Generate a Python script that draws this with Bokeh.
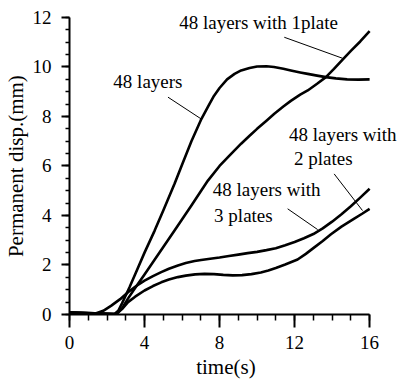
from bokeh.plotting import figure
from bokeh.models import Range1d, SingleIntervalTicker, Label, ColumnDataSource, Title
from bokeh.embed import file_html
from bokeh.resources import INLINE

# ---- data ----
t_48 = [0, 1.0, 2.0, 2.4, 2.6, 2.8, 3.2, 3.6, 4.0, 4.54, 5.0, 5.6, 6.0, 6.5, 7.0, 7.4, 7.7,
        8.0, 8.4, 8.8, 9.15, 9.6, 10.0, 10.5, 10.9, 11.4, 11.8, 12.3, 12.7, 13.2, 13.67,
        14.2, 14.8, 15.4, 16.0]
y_48 = [0.08, 0.06, 0.03, 0.02, 0.15, 0.45, 1.1, 1.8, 2.5, 3.39, 4.2, 5.28, 6.05, 7.0, 7.85,
        8.42, 8.83, 9.15, 9.5, 9.72, 9.86, 9.96, 10.02, 10.03, 10.0, 9.93, 9.86, 9.78, 9.72,
        9.65, 9.59, 9.54, 9.5, 9.49, 9.5]

t_1p = [0, 1.0, 2.0, 2.5, 2.8, 3.1, 3.47, 4.0, 4.5, 5.0, 5.6, 6.05, 6.5, 7.0, 7.38, 8.0, 8.5,
        9.15, 9.6, 10.0, 10.5, 10.92, 11.4, 11.8, 12.3, 12.7, 13.2, 13.67, 14.1, 14.56,
        15.0, 15.5, 16.0]
y_1p = [0.08, 0.06, 0.03, 0.02, 0.25, 0.62, 1.04, 1.62, 2.17, 2.73, 3.39, 3.9, 4.4, 4.98,
        5.41, 6.0, 6.4, 6.9, 7.22, 7.5, 7.83, 8.11, 8.4, 8.63, 8.88, 9.05, 9.32, 9.59, 9.92,
        10.3, 10.65, 11.03, 11.45]

t_3p = [0, 1.0, 1.35, 1.8, 2.23, 2.7, 3.12, 3.5, 4.0, 4.45, 4.89, 5.3, 5.78, 6.2, 6.67, 7.02,
        7.5, 8.0, 8.5, 9.0, 9.5, 10.0, 10.5, 11.0, 11.5, 12.0, 12.5, 13.0, 13.5, 14.0, 14.5,
        15.0, 15.5, 16.0]
y_3p = [0.08, 0.05, 0.03, 0.15, 0.36, 0.62, 0.9, 1.12, 1.37, 1.55, 1.71, 1.85, 1.98, 2.08,
        2.16, 2.2, 2.25, 2.3, 2.36, 2.42, 2.48, 2.53, 2.6, 2.68, 2.8, 2.93, 3.08, 3.25, 3.48,
        3.75, 4.05, 4.37, 4.72, 5.08]

t_2p = [0, 1.0, 2.0, 2.5, 2.8, 3.12, 3.5, 4.0, 4.45, 4.89, 5.3, 5.78, 6.2, 6.7, 7.2, 7.7, 8.2,
        8.7, 9.2, 9.7, 10.2, 10.6, 11.0, 11.5, 12.16, 12.6, 13.0, 13.5, 13.94, 14.5, 15.18,
        15.6, 16.0]
y_2p = [0.08, 0.05, 0.03, 0.02, 0.22, 0.5, 0.72, 0.97, 1.15, 1.3, 1.41, 1.51, 1.57, 1.62,
        1.64, 1.63, 1.6, 1.58, 1.59, 1.63, 1.7, 1.78, 1.88, 2.02, 2.22, 2.45, 2.68, 2.97,
        3.24, 3.55, 3.87, 4.07, 4.27]

# annotations: text, anchor (data units), alignment
label_texts = ["48 layers with 1plate", "48 layers", "48 layers with", "2 plates",
               "48 layers with", "3 plates"]
label_x = [10.08, 4.18, 11.70, 11.97, 7.64, 7.71]
label_y = [11.78, 9.41, 7.27, 6.30, 5.03, 4.00]
label_align = ["center", "center", "left", "left", "left", "left"]

# leader lines (data units)
lead_x0 = [11.45, 5.25, 14.11, 11.63]
lead_y0 = [11.20, 8.78, 5.68, 4.27]
lead_x1 = [14.56, 7.02, 15.62, 13.23]
lead_y1 = [10.35, 7.90, 4.20, 3.43]

x_label = "time(s)"
y_label = "Permanent  disp.(mm)"

FONT = "Liberation Serif"
FS = "19px"

# axes run 0..16 and 0..12; the plot area is a little larger so that labels are not cut
p = figure(width=407, height=383, output_backend="svg", toolbar_location=None,
           x_range=Range1d(0, 17.913), y_range=Range1d(0, 12.2),
           min_border_left=68, min_border_right=2, min_border_top=12, min_border_bottom=69)
p.outline_line_color = None
p.grid.visible = False
p.background_fill_color = "white"
p.border_fill_color = "white"

for tt, yy in [(t_48, y_48), (t_1p, y_1p), (t_3p, y_3p), (t_2p, y_2p)]:
    p.line(tt, yy, line_color="black", line_width=2.6, line_join="round")

src = ColumnDataSource(dict(x0=lead_x0, y0=lead_y0, x1=lead_x1, y1=lead_y1))
p.segment(x0="x0", y0="y0", x1="x1", y1="y1", source=src, line_color="black", line_width=1)

for txt, lx, ly, al in zip(label_texts, label_x, label_y, label_align):
    p.add_layout(Label(x=lx, y=ly, text=txt, text_align=al, text_baseline="middle",
                       text_font=FONT, text_font_size=FS, text_color="black"))

xa = p.xaxis[0]
xa.bounds = (0, 16)
xa.ticker = SingleIntervalTicker(interval=4, num_minor_ticks=4)
xa.major_tick_out = 13
xa.major_tick_in = 0
xa.minor_tick_out = 6
xa.minor_tick_in = 0
xa.major_label_standoff = 8

ya = p.yaxis[0]
ya.bounds = (0, 12)
ya.ticker = SingleIntervalTicker(interval=2, num_minor_ticks=4)
ya.major_tick_out = 8
ya.major_tick_in = 0
ya.minor_tick_out = 4
ya.minor_tick_in = 0
ya.major_label_standoff = 10

for ax in (xa, ya):
    ax.axis_line_width = 2
    ax.axis_line_color = "black"
    ax.major_tick_line_width = 2
    ax.major_tick_line_color = "black"
    ax.minor_tick_line_width = 1.5
    ax.minor_tick_line_color = "black"
    ax.major_label_text_font = FONT
    ax.major_label_text_font_size = FS
    ax.major_label_text_color = "black"

p.add_layout(Title(text=x_label, align="left", offset=126.7, standoff=2,
                   text_font=FONT, text_font_size="21px", text_font_style="normal",
                   text_color="black"), "below")
p.add_layout(Title(text=y_label, align="center", offset=-17.5, standoff=3,
                   text_font=FONT, text_font_size="21px", text_font_style="normal",
                   text_color="black"), "left")

open("out.html", "w").write(file_html(p, INLINE))
